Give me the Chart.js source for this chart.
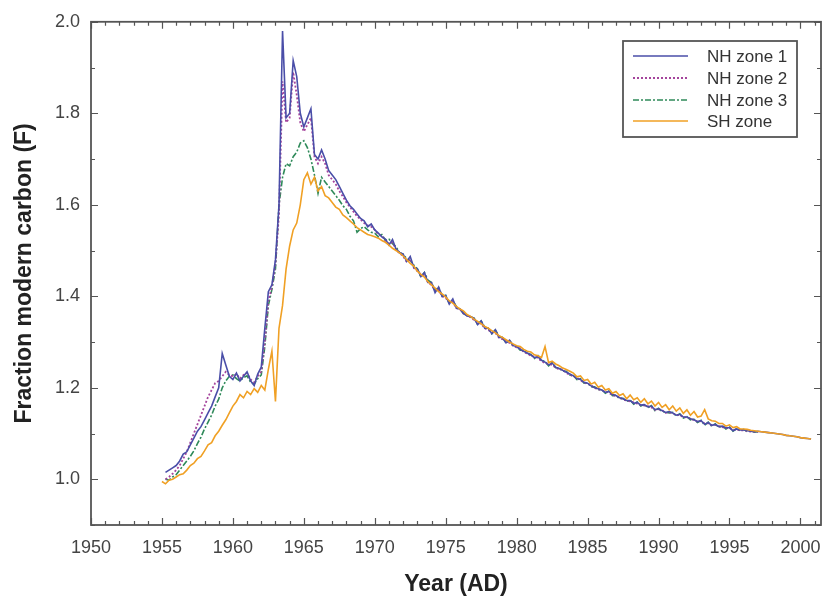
<!DOCTYPE html>
<html>
<head>
<meta charset="utf-8">
<script src="https://cdn.jsdelivr.net/npm/chart.js@4.4.0/dist/chart.umd.min.js"></script>
<style>
  html, body { margin: 0; padding: 0; background: #fff; }
</style>
</head>
<body>
<canvas id="chart" width="827" height="596"></canvas>
<script>
const FONT = 'Arial, "Liberation Sans", sans-serif';

const xTicks = [1950, 1955, 1960, 1965, 1970, 1975, 1980, 1985, 1990, 1995, 2000];
const yTicks = [1.0, 1.2, 1.4, 1.6, 1.8, 2.0];

const years = [
  1955.0, 1955.25, 1955.5, 1955.75,
  1956.0, 1956.25, 1956.5, 1956.75,
  1957.0, 1957.25, 1957.5, 1957.75,
  1958.0, 1958.25, 1958.5, 1958.75,
  1959.0, 1959.25, 1959.5, 1959.75,
  1960.0, 1960.25, 1960.5, 1960.75,
  1961.0, 1961.25, 1961.5, 1961.75,
  1962.0, 1962.25, 1962.5, 1962.75,
  1963.0, 1963.25, 1963.5, 1963.75,
  1964.0, 1964.25, 1964.5, 1964.75,
  1965.0, 1965.25, 1965.5, 1965.75,
  1966.0, 1966.25, 1966.5, 1966.75,
  1967.0, 1967.25, 1967.5, 1967.75,
  1968.0, 1968.25, 1968.5, 1968.75,
  1969.0, 1969.25, 1969.5, 1969.75,
  1970.0, 1970.25, 1970.5, 1970.75,
  1971.0, 1971.25, 1971.5, 1971.75,
  1972.0, 1972.25, 1972.5, 1972.75,
  1973.0, 1973.25, 1973.5, 1973.75,
  1974.0, 1974.25, 1974.5, 1974.75,
  1975.0, 1975.25, 1975.5, 1975.75,
  1976.0, 1976.25, 1976.5, 1976.75,
  1977.0, 1977.25, 1977.5, 1977.75,
  1978.0, 1978.25, 1978.5, 1978.75,
  1979.0, 1979.25, 1979.5, 1979.75,
  1980.0, 1980.25, 1980.5, 1980.75,
  1981.0, 1981.25, 1981.5, 1981.75,
  1982.0, 1982.25, 1982.5, 1982.75,
  1983.0, 1983.25, 1983.5, 1983.75,
  1984.0, 1984.25, 1984.5, 1984.75,
  1985.0, 1985.25, 1985.5, 1985.75,
  1986.0, 1986.25, 1986.5, 1986.75,
  1987.0, 1987.25, 1987.5, 1987.75,
  1988.0, 1988.25, 1988.5, 1988.75,
  1989.0, 1989.25, 1989.5, 1989.75,
  1990.0, 1990.25, 1990.5, 1990.75,
  1991.0, 1991.25, 1991.5, 1991.75,
  1992.0, 1992.25, 1992.5, 1992.75,
  1993.0, 1993.25, 1993.5, 1993.75,
  1994.0, 1994.25, 1994.5, 1994.75,
  1995.0, 1995.25, 1995.5, 1995.75,
  1996.0, 1996.25, 1996.5, 1996.75,
  1997.0, 1997.25, 1997.5, 1997.75,
  1998.0, 1998.25, 1998.5, 1998.75,
  1999.0, 1999.25, 1999.5, 1999.75,
  2000.0, 2000.25, 2000.5, 2000.75
];

// NH zone 1
const nh1 = [
  null, 1.015, 1.020, 1.025,
  1.030, 1.040, 1.055, 1.060,
  1.075, 1.090, 1.105, 1.115,
  1.130, 1.145, 1.160, 1.180,
  1.200, 1.275, 1.250, 1.225,
  1.218, 1.232, 1.215, 1.225,
  1.235, 1.215, 1.205, 1.230,
  1.245, 1.330, 1.410, 1.425,
  1.480, 1.600, 1.980, 1.790,
  1.800, 1.915, 1.880, 1.800,
  1.770, 1.790, 1.810, 1.710,
  1.700, 1.720, 1.700, 1.675,
  1.665, 1.655, 1.640, 1.625,
  1.610, 1.598, 1.590, 1.580,
  1.570, 1.565, 1.552, 1.558,
  1.545, 1.538, 1.530, 1.525,
  1.512, 1.524, 1.503, 1.496,
  1.492, 1.476, 1.487, 1.463,
  1.460, 1.443, 1.452, 1.430,
  1.430, 1.408, 1.420, 1.400,
  1.402, 1.383, 1.394, 1.374,
  1.372, 1.363, 1.357, 1.356,
  1.352, 1.338, 1.346, 1.330,
  1.330, 1.318, 1.327, 1.310,
  1.310, 1.298, 1.304, 1.292,
  1.290, 1.284, 1.280, 1.276,
  1.272, 1.266, 1.268, 1.260,
  1.256, 1.250, 1.254, 1.245,
  1.242, 1.238, 1.234, 1.230,
  1.226, 1.220, 1.218, 1.212,
  1.210, 1.204, 1.200, 1.198,
  1.195, 1.190, 1.192, 1.185,
  1.183, 1.178, 1.176, 1.172,
  1.172, 1.166, 1.168, 1.162,
  1.163, 1.158, 1.160, 1.152,
  1.154, 1.150, 1.146, 1.148,
  1.145, 1.140, 1.142, 1.136,
  1.136, 1.132, 1.130, 1.126,
  1.128, 1.120, 1.124, 1.118,
  1.120, 1.115, 1.116, 1.112,
  1.113, 1.106, 1.110, 1.108,
  1.108, 1.106, 1.105, 1.104,
  1.105, 1.104, 1.103, 1.102,
  1.101, 1.100, 1.099, 1.098,
  1.096, 1.095, 1.094, 1.093,
  1.091, 1.090, 1.089, 1.088
];

// NH zone 2
const nh2 = [
  null, 1.000, 1.005, 1.012,
  1.020, 1.030, 1.045, 1.060,
  1.080, 1.100, 1.120, 1.140,
  1.160, 1.180, 1.195, 1.210,
  1.215, 1.225, 1.235, 1.228,
  1.225, 1.230, 1.220, 1.228,
  1.232, 1.218, 1.212, 1.225,
  1.235, 1.300, 1.390, 1.420,
  1.470, 1.580, 1.870, 1.780,
  1.790, 1.890, 1.840, 1.780,
  1.760, 1.775, 1.790, 1.705,
  1.690, 1.705, 1.690, 1.665,
  1.655, 1.645, 1.630, 1.618,
  1.605, 1.595, 1.585, 1.575,
  1.568, 1.560, 1.555, 1.552,
  1.545, 1.535, 1.532, 1.522,
  1.515, 1.518, 1.502, 1.494,
  1.488, 1.475, 1.482, 1.462,
  1.455, 1.448, 1.446, 1.430,
  1.425, 1.412, 1.414, 1.400,
  1.396, 1.388, 1.388, 1.374,
  1.372, 1.362, 1.358, 1.354,
  1.348, 1.342, 1.340, 1.330,
  1.326, 1.322, 1.320, 1.310,
  1.306, 1.302, 1.298, 1.292,
  1.288, 1.286, 1.278, 1.275,
  1.270, 1.268, 1.265, 1.258,
  1.254, 1.252, 1.250, 1.244,
  1.240, 1.240, 1.232, 1.229,
  1.224, 1.222, 1.216, 1.212,
  1.208, 1.206, 1.199, 1.197,
  1.194, 1.192, 1.189, 1.184,
  1.182, 1.180, 1.174, 1.172,
  1.170, 1.168, 1.165, 1.162,
  1.161, 1.160, 1.157, 1.152,
  1.153, 1.151, 1.145, 1.146,
  1.144, 1.141, 1.140, 1.136,
  1.135, 1.133, 1.129, 1.126,
  1.127, 1.122, 1.122, 1.118,
  1.119, 1.116, 1.114, 1.112,
  1.112, 1.108, 1.109, 1.107,
  1.107, 1.106, 1.104, 1.104,
  1.103, null, null, null,
  null, null, null, null,
  null, null, null, null,
  null, null, null, null
];

// NH zone 3
const nh3 = [
  null, 1.000, 0.998, 1.005,
  1.010, 1.020, 1.030, 1.040,
  1.050, 1.062, 1.078, 1.092,
  1.110, 1.125, 1.140, 1.160,
  1.175, 1.200, 1.215, 1.225,
  1.228, 1.220, 1.215, 1.222,
  1.226, 1.212, 1.208, 1.220,
  1.228, 1.290, 1.380, 1.415,
  1.460, 1.600, 1.660, 1.690,
  1.685, 1.705, 1.715, 1.735,
  1.740, 1.725, 1.700, 1.665,
  1.625, 1.660, 1.650, 1.640,
  1.630, 1.620, 1.610, 1.598,
  1.590, 1.575, 1.565, 1.540,
  1.548, 1.552, 1.545, 1.540,
  1.538, 1.530, 1.535, 1.522,
  1.525, 1.515, 1.508, 1.495,
  1.492, 1.482, 1.478, 1.468,
  1.460, 1.442, 1.452, 1.435,
  1.430, 1.412, 1.420, 1.400,
  1.402, 1.384, 1.390, 1.378,
  1.372, 1.362, 1.358, 1.355,
  1.352, 1.338, 1.346, 1.333,
  1.330, 1.318, 1.326, 1.313,
  1.310, 1.298, 1.304, 1.292,
  1.291, 1.282, 1.282, 1.275,
  1.273, 1.264, 1.270, 1.259,
  1.258, 1.248, 1.255, 1.244,
  1.243, 1.236, 1.236, 1.228,
  1.227, 1.218, 1.220, 1.210,
  1.211, 1.202, 1.202, 1.196,
  1.196, 1.188, 1.193, 1.183,
  1.184, 1.176, 1.177, 1.170,
  1.173, 1.164, 1.169, 1.160,
  1.164, 1.156, 1.161, 1.150,
  1.155, 1.148, 1.147, 1.145,
  1.146, 1.138, 1.143, 1.134,
  1.137, 1.130, 1.131, 1.124,
  1.129, 1.118, 1.125, 1.116,
  1.121, 1.113, 1.117, 1.110,
  1.114, 1.105, 1.111, 1.106,
  1.109, 1.104, 1.106, 1.103,
  1.104, null, null, null,
  null, null, null, null,
  null, null, null, null,
  null, null, null, null
];

// SH zone
const sh = [
  0.995, 0.990, 0.998, 1.000,
  1.005, 1.010, 1.012, 1.020,
  1.030, 1.035, 1.045, 1.050,
  1.062, 1.075, 1.080, 1.095,
  1.105, 1.118, 1.130, 1.145,
  1.160, 1.170, 1.185, 1.178,
  1.192, 1.185, 1.198, 1.190,
  1.205, 1.195, 1.240, 1.280,
  1.170, 1.330, 1.380, 1.460,
  1.510, 1.545, 1.560, 1.600,
  1.655, 1.670, 1.645, 1.660,
  1.630, 1.640, 1.620, 1.615,
  1.605, 1.595, 1.590, 1.578,
  1.572, 1.565, 1.558, 1.550,
  1.545, 1.540, 1.535, 1.533,
  1.530, 1.527, 1.522, 1.518,
  1.512, 1.505, 1.500, 1.495,
  1.488, 1.480, 1.472, 1.466,
  1.455, 1.448, 1.442, 1.432,
  1.425, 1.418, 1.410, 1.405,
  1.398, 1.390, 1.385, 1.378,
  1.372, 1.368, 1.360, 1.356,
  1.350, 1.345, 1.340, 1.334,
  1.330, 1.325, 1.320, 1.314,
  1.310, 1.305, 1.300, 1.296,
  1.292, 1.290, 1.284, 1.280,
  1.278, 1.272, 1.270, 1.266,
  1.290, 1.255, 1.258, 1.252,
  1.248, 1.243, 1.240, 1.236,
  1.232, 1.224, 1.226, 1.216,
  1.218, 1.208, 1.212, 1.201,
  1.205, 1.195, 1.198, 1.188,
  1.192, 1.183, 1.187, 1.176,
  1.184, 1.174, 1.178, 1.168,
  1.176, 1.165, 1.171, 1.160,
  1.168, 1.157, 1.163, 1.152,
  1.160, 1.149, 1.156, 1.144,
  1.152, 1.140, 1.148, 1.136,
  1.138, 1.152, 1.132, 1.128,
  1.127, 1.122, 1.122, 1.116,
  1.119, 1.113, 1.115, 1.110,
  1.110, 1.109, 1.107, 1.106,
  1.105, 1.104, 1.103, 1.102,
  1.101, 1.100, 1.099, 1.098,
  1.096, 1.095, 1.094, 1.093,
  1.091, 1.090, 1.089, 1.088
];

// frame, inward ticks, axis titles and the boxed legend
const framePlugin = {
  id: 'frame',
  afterDraw(chart) {
    const ctx = chart.ctx;
    const a = chart.chartArea;
    const x = chart.scales.x;
    const y = chart.scales.y;
    ctx.save();
    ctx.strokeStyle = '#555';
    ctx.lineWidth = 1.2;
    ctx.beginPath();
    for (let yr = 1950; yr <= 2001; yr++) {
      const px = Math.round(x.getPixelForValue(yr)) + 0.5;
      const len = yr % 5 === 0 ? 7 : 4;
      ctx.moveTo(px, a.bottom); ctx.lineTo(px, a.bottom - len);
      ctx.moveTo(px, a.top); ctx.lineTo(px, a.top + len);
    }
    for (let k = 9; k <= 20; k++) {
      const py = Math.round(y.getPixelForValue(k / 10)) + 0.5;
      const len = k % 2 === 0 ? 7 : 4;
      ctx.moveTo(a.left, py); ctx.lineTo(a.left + len, py);
      ctx.moveTo(a.right, py); ctx.lineTo(a.right - len, py);
    }
    ctx.stroke();
    ctx.lineWidth = 1.8;
    ctx.strokeRect(a.left, a.top, a.right - a.left, a.bottom - a.top);

    // axis titles
    ctx.fillStyle = '#222';
    ctx.font = 'bold 23px ' + FONT;
    ctx.textAlign = 'center';
    ctx.textBaseline = 'alphabetic';
    ctx.fillText('Year (AD)', (a.left + a.right) / 2, 591);
    ctx.save();
    ctx.translate(25, (a.top + a.bottom) / 2);
    ctx.rotate(-Math.PI / 2);
    ctx.textBaseline = 'middle';
    ctx.fillText('Fraction modern carbon (F)', 0, 0);
    ctx.restore();

    // legend
    const lx = 623, ly = 41, lw = 174, lh = 96;
    ctx.fillStyle = '#fff';
    ctx.fillRect(lx, ly, lw, lh);
    ctx.strokeStyle = '#555';
    ctx.lineWidth = 1.8;
    ctx.strokeRect(lx, ly, lw, lh);
    ctx.font = '17px ' + FONT;
    ctx.textAlign = 'left';
    ctx.textBaseline = 'middle';
    const rows = [56, 78, 100, 121];
    chart.data.datasets.forEach((ds, i) => {
      const ry = rows[i];
      ctx.strokeStyle = ds.borderColor;
      ctx.lineWidth = ds.borderWidth;
      ctx.setLineDash(ds.borderDash || []);
      ctx.beginPath();
      ctx.moveTo(633, ry);
      ctx.lineTo(688, ry);
      ctx.stroke();
      ctx.setLineDash([]);
      ctx.fillStyle = '#333';
      ctx.fillText(ds.label, 707, ry + 1);
    });
    ctx.restore();
  }
};

const ctx = document.getElementById('chart');
const chart = new Chart(ctx, {
  type: 'line',
  data: {
    labels: years,
    datasets: [
      {
        label: 'NH zone 1',
        data: nh1,
        borderColor: '#4a4ea8',
        borderWidth: 1.6,
        order: 1
      },
      {
        label: 'NH zone 2',
        data: nh2,
        borderColor: '#a4449c',
        borderWidth: 1.8,
        borderDash: [2, 2],
        order: 2
      },
      {
        label: 'NH zone 3',
        data: nh3,
        borderColor: '#2f8a5a',
        borderWidth: 1.6,
        borderDash: [6, 2, 2, 2],
        order: 3
      },
      {
        label: 'SH zone',
        data: sh,
        borderColor: '#f0a024',
        borderWidth: 1.6,
        order: 0
      }
    ]
  },
  options: {
    responsive: false,
    devicePixelRatio: 1,
    animation: false,
    spanGaps: false,
    elements: {
      point: { radius: 0 },
      line: { tension: 0 }
    },
    layout: {
      padding: { top: 21, right: 6, left: 0, bottom: 0 }
    },
    scales: {
      x: {
        type: 'linear',
        min: 1950,
        max: 2001.45,
        afterBuildTicks: s => { s.ticks = xTicks.map(v => ({ value: v })); },
        afterFit: s => { s.height = 71; s.paddingRight = 0; },
        grid: { display: false, drawTicks: false },
        border: { display: false },
        ticks: {
          color: '#444',
          font: { family: FONT, size: 18 },
          padding: 12,
          maxRotation: 0,
          callback: v => String(v)
        }
      },
      y: {
        type: 'linear',
        min: 0.9,
        max: 2.0,
        afterBuildTicks: s => { s.ticks = yTicks.map(v => ({ value: v })); },
        afterFit: s => { s.width = 91; },
        grid: { display: false, drawTicks: false },
        border: { display: false },
        ticks: {
          color: '#444',
          font: { family: FONT, size: 18 },
          padding: 11,
          callback: v => v.toFixed(1)
        }
      }
    },
    plugins: {
      legend: { display: false },
      tooltip: { enabled: false }
    }
  },
  plugins: [framePlugin]
});
</script>
</body>
</html>
